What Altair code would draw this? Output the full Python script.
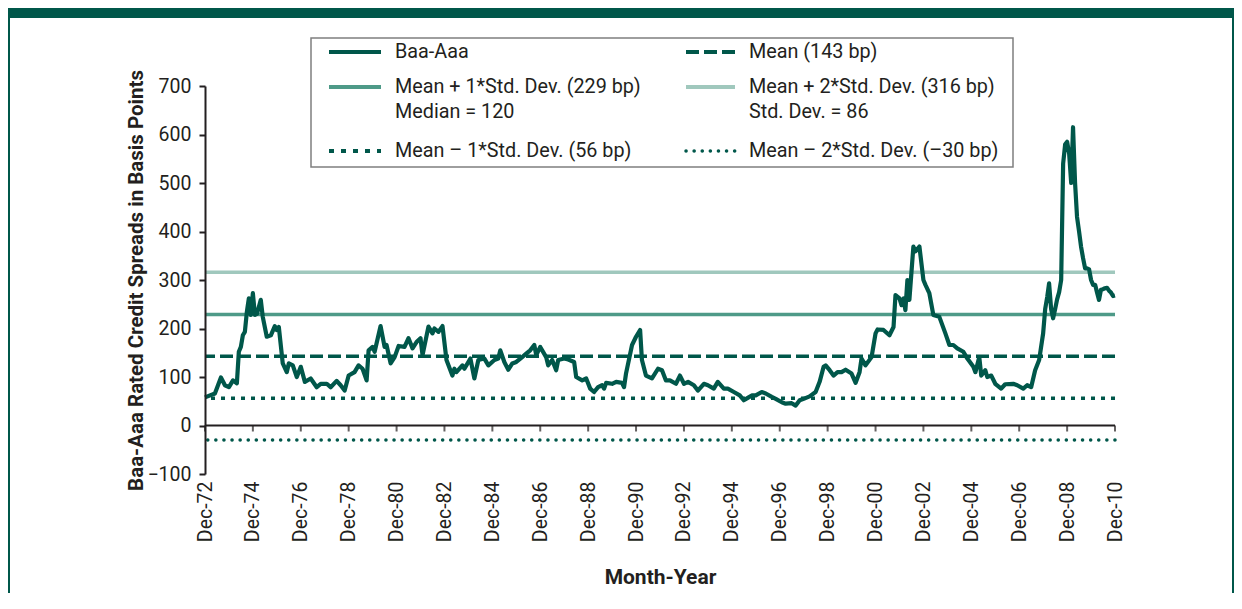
import altair as alt
import pandas as pd

FONT = "Roboto"
DARK = "#00574A"
MID = "#4E9A88"
LIGHT = "#A0C8BD"
INK = "#231F20"

month = [
    "1972-12", "1973-05", "1973-08", "1973-10", "1973-12", "1974-02", "1974-04", "1974-05",
    "1974-06", "1974-07", "1974-08", "1974-09", "1974-10", "1974-11", "1974-12", "1975-01",
    "1975-02", "1975-04", "1975-05", "1975-07", "1975-09", "1975-11", "1975-12", "1976-01",
    "1976-03", "1976-05", "1976-06", "1976-08", "1976-10", "1976-12", "1977-02", "1977-05",
    "1977-08", "1977-10", "1978-01", "1978-03", "1978-06", "1978-08", "1978-10", "1978-12",
    "1979-03", "1979-05", "1979-07", "1979-09", "1979-10", "1979-12", "1980-01", "1980-04",
    "1980-06", "1980-07", "1980-09", "1980-11", "1981-01", "1981-04", "1981-06", "1981-08",
    "1981-10", "1981-12", "1982-01", "1982-04", "1982-06", "1982-07", "1982-09", "1982-11",
    "1983-01", "1983-04", "1983-05", "1983-06", "1983-09", "1983-10", "1984-01", "1984-03",
    "1984-05", "1984-08", "1984-10", "1985-01", "1985-03", "1985-04", "1985-06", "1985-08",
    "1985-10", "1985-12", "1986-03", "1986-05", "1986-07", "1986-09", "1986-10", "1986-12",
    "1987-03", "1987-04", "1987-06", "1987-08", "1987-09", "1987-12", "1988-02", "1988-05",
    "1988-06", "1988-09", "1988-11", "1989-01", "1989-03", "1989-05", "1989-07", "1989-08",
    "1989-09", "1989-12", "1990-02", "1990-05", "1990-06", "1990-07", "1990-10", "1990-12",
    "1991-02", "1991-03", "1991-05", "1991-08", "1991-11", "1992-01", "1992-03", "1992-05",
    "1992-08", "1992-10", "1992-12", "1993-02", "1993-05", "1993-07", "1993-10", "1993-12",
    "1994-03", "1994-05", "1994-08", "1994-10", "1995-01", "1995-04", "1995-06", "1995-08",
    "1995-10", "1995-12", "1996-03", "1996-05", "1996-08", "1996-10", "1997-01", "1997-03",
    "1997-06", "1997-08", "1997-10", "1997-12", "1998-03", "1998-06", "1998-08", "1998-10",
    "1998-11", "1999-01", "1999-03", "1999-05", "1999-07", "1999-09", "1999-12", "2000-02",
    "2000-04", "2000-05", "2000-07", "2000-10", "2000-12", "2001-01", "2001-04", "2001-07",
    "2001-09", "2001-10", "2001-12", "2002-01", "2002-02", "2002-03", "2002-04", "2002-05",
    "2002-07", "2002-08", "2002-10", "2002-12", "2003-01", "2003-03", "2003-05", "2003-08",
    "2003-11", "2004-01", "2004-03", "2004-05", "2004-08", "2004-10", "2005-01", "2005-02",
    "2005-04", "2005-05", "2005-07", "2005-08", "2005-10", "2005-12", "2006-03", "2006-05",
    "2006-09", "2006-11", "2007-02", "2007-04", "2007-06", "2007-08", "2007-10", "2007-12",
    "2008-01", "2008-02", "2008-03", "2008-04", "2008-05", "2008-06", "2008-07", "2008-08",
    "2008-09", "2008-10", "2008-11", "2008-12", "2009-01", "2009-02", "2009-03", "2009-04",
    "2009-05", "2009-06", "2009-07", "2009-08", "2009-09", "2009-10", "2009-11", "2009-12",
    "2010-01", "2010-02", "2010-03", "2010-04", "2010-05", "2010-06", "2010-07", "2010-08",
    "2010-09", "2010-10", "2010-11", "2010-12",
]
spread = [
    58, 66, 99, 83, 79, 93, 87, 152,
    162, 186, 193, 235, 262, 228, 273, 228,
    230, 259, 224, 183, 186, 205, 197, 203,
    128, 110, 128, 124, 100, 121, 90, 97,
    79, 86, 86, 79, 92, 83, 72, 103,
    110, 124, 117, 93, 155, 162, 152, 205,
    162, 166, 128, 141, 164, 162, 180, 159,
    172, 180, 145, 204, 190, 200, 193, 205,
    135, 103, 117, 110, 124, 117, 138, 97,
    135, 138, 124, 135, 138, 155, 131, 115,
    128, 131, 141, 148, 155, 166, 145, 162,
    141, 124, 135, 114, 135, 138, 136, 131,
    100, 93, 97, 76, 69, 79, 83, 76,
    88, 86, 90, 88, 79, 107, 166, 183,
    197, 135, 103, 97, 117, 114, 93, 93,
    86, 103, 86, 90, 83, 72, 86, 83,
    76, 90, 76, 76, 69, 62, 52, 57,
    62, 62, 69, 66, 59, 55, 48, 45,
    46, 41, 52, 55, 60, 69, 90, 121,
    124, 114, 103, 110, 110, 115, 107, 88,
    110, 138, 124, 141, 190, 198, 197, 186,
    203, 269, 262, 248, 262, 238, 300, 259,
    369, 359, 369, 300, 290, 273, 228, 224,
    190, 166, 166, 159, 152, 138, 121, 110,
    141, 103, 114, 100, 103, 86, 76, 85,
    86, 83, 76, 83, 79, 114, 135, 190,
    240, 265, 293, 240, 221, 240, 260, 275,
    300, 540, 580, 585, 560, 500, 615, 500,
    430, 400, 369, 345, 324, 324, 322, 300,
    290, 290, 275, 259, 280, 281, 283, 284,
    278, 274, 267, 268,
]

tick_years = list(range(1972, 2011, 2))
y_ticks = [-100, 0, 100, 200, 300, 400, 500, 600, 700]

ref_levels = [316, 229, 143, 56, -30]

legend_col1 = ["Baa-Aaa", "Mean + 1*Std. Dev. (229 bp)", "Median = 120", "Mean \u2013 1*Std. Dev. (56 bp)"]
legend_col2 = ["Mean (143 bp)", "Mean + 2*Std. Dev. (316 bp)", "Std. Dev. = 86", "Mean \u2013 2*Std. Dev. (\u201330 bp)"]

df = pd.DataFrame({"date": [m + "-01" for m in month], "spread": spread})
ticks_df = pd.DataFrame({"date": [f"{y}-12-01" for y in tick_years]})
one = pd.DataFrame({"k": [0]})

x_scale = alt.Scale(
    type="utc",
    domain=[alt.DateTime(year=1972, month=12, date=1, utc=True),
            alt.DateTime(year=2010, month=12, date=1, utc=True)],
)
y_scale = alt.Scale(domain=[-100, 700], nice=False, zero=False)

x_axis = alt.Axis(
    values=[alt.DateTime(year=y, month=12, date=1, utc=True) for y in tick_years],
    format="%b-%y", labelAngle=270, labelFont=FONT, labelFontSize=19.5,
    labelColor=INK, domain=False, ticks=False, grid=False, labelPadding=7,
    title="Month-Year", titleFont=FONT, titleFontSize=21, titleFontWeight="bold",
    titleColor=INK, titleY=103, titleBaseline="middle", zindex=1,
)
y_axis = alt.Axis(
    values=y_ticks, domainColor=INK, domainWidth=2, tickColor=INK, tickWidth=2,
    tickSize=6, labelFont=FONT, labelFontSize=19.5, labelColor=INK, labelPadding=8,
    grid=False, title="Baa-Aaa Rated Credit Spreads in Basis Points", titleFont=FONT,
    titleFontSize=20.5, titleFontWeight="bold", titleColor=INK, titleX=-69, titleY=194,
    titleAngle=270, titleBaseline="middle", titleAlign="center", zindex=1,
)


def box(x1, x2, y1, y2, **kw):
    return alt.Chart(one).mark_rect(**kw).encode(
        x=alt.value(x1), x2=alt.value(x2), y=alt.value(y1), y2=alt.value(y2))


def hline(x1, x2, y, color, dash=None, cap="butt", width=4):
    kw = dict(color=color, strokeWidth=width, strokeCap=cap)
    if dash:
        kw["strokeDash"] = dash
    return alt.Chart(one).mark_rule(**kw).encode(
        x=alt.value(x1), x2=alt.value(x2), y=alt.value(y))


def label(x, y, txt):
    return alt.Chart(one).mark_text(
        align="left", baseline="middle", font=FONT, fontSize=19.8, color=INK
    ).encode(x=alt.value(x), y=alt.value(y), text=alt.value(txt))


enc = dict(
    x=alt.X("date:T", scale=x_scale, axis=x_axis),
    y=alt.Y("spread:Q", scale=y_scale, axis=y_axis),
)
# invisible carrier for the axes, then the visible series drawn on top of the reference lines
axes_carrier = alt.Chart(df).mark_line(strokeOpacity=0).encode(**enc)
main = alt.Chart(df).mark_line(color=DARK, strokeWidth=4.2, strokeJoin="round").encode(**enc)

# page frame
frame = [
    box(-197, 1029, -78, -68, fill=DARK),
    box(-197, -195, -78, 507, fill=DARK),
    box(1027, 1029, -78, 507, fill=DARK),
]

ref_styles = [
    dict(color=LIGHT, strokeWidth=3.5),
    dict(color=MID, strokeWidth=3.5),
    dict(color=DARK, strokeWidth=3.5, strokeDash=[13, 5]),
    dict(color=DARK, strokeWidth=3.5, strokeDash=[4, 6]),
    dict(color=DARK, strokeWidth=3.5, strokeDash=[0.1, 8], strokeCap="round"),
]
refs = [
    alt.Chart(one).mark_rule(**st).encode(y=alt.YDatum(lv, scale=y_scale))
    for lv, st in zip(ref_levels, ref_styles)
]

zero_line = alt.Chart(one).mark_rule(color=INK, strokeWidth=2).encode(
    y=alt.YDatum(0, scale=y_scale))

x_ticks = alt.Chart(ticks_df).mark_tick(
    orient="vertical", color=INK, thickness=2, size=6, yOffset=3
).encode(
    x=alt.X("date:T", scale=x_scale),
    y=alt.YDatum(0, scale=y_scale),
)

# legend
rows = [-34, 1, 26, 65]
legend = [box(106, 808, -48, 81, fill="white", stroke="#7F7F7F", strokeWidth=1.5)]
legend += [
    hline(124, 176, rows[0], DARK),
    hline(124, 176, rows[1], MID),
    hline(124, 176, rows[3], DARK, dash=[5, 7]),
    hline(481, 530, rows[0], DARK, dash=[13, 5]),
    hline(481, 530, rows[1], LIGHT),
    hline(481, 530, rows[3], DARK, dash=[0.1, 8], cap="round", width=3.5),
]
legend += [label(190, r, t) for r, t in zip(rows, legend_col1)]
legend += [label(544, r, t) for r, t in zip(rows, legend_col2)]

chart = alt.layer(axes_carrier, *frame, *refs, main, zero_line, x_ticks, *legend).properties(
    width=910, height=388,
    padding={"left": 197, "top": 78, "right": 119, "bottom": 127},
    autosize=alt.AutoSizeParams(type="none"),
    background="white",
).configure_view(strokeWidth=0)

chart.save("out.html", embed_options={"renderer": "svg", "actions": False})
